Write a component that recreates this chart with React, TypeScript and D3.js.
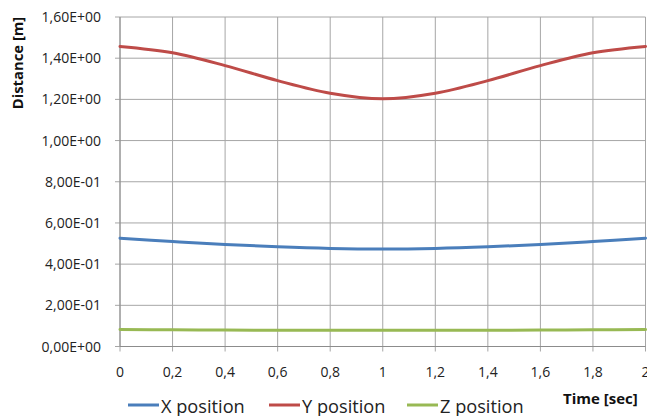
import React from "react";
import * as d3 from "d3";

const times = [0, 0.2, 0.4, 0.6, 0.8, 1.0, 1.2, 1.4, 1.6, 1.8, 2.0];
const xPosition = [0.526, 0.51, 0.4955, 0.484, 0.476, 0.473, 0.476, 0.484, 0.4955, 0.51, 0.526];
const yPosition = [1.457, 1.426, 1.364, 1.291, 1.23, 1.203, 1.23, 1.291, 1.364, 1.426, 1.457];
const zPosition = [0.082, 0.081, 0.08, 0.079, 0.079, 0.079, 0.079, 0.079, 0.08, 0.081, 0.082];
const yTicks = [0, 0.2, 0.4, 0.6, 0.8, 1.0, 1.2, 1.4, 1.6];
const xTicks = [0, 0.2, 0.4, 0.6, 0.8, 1.0, 1.2, 1.4, 1.6, 1.8, 2.0];
const seriesNames = ["X position", "Y position", "Z position"];
const seriesColors = ["#4a7ebb", "#be4b48", "#98b954"];

const W = 647, H = 416;
const left = 120, right = 645.5, top = 17, bottom = 346.5;

function fmtY(v: number) {
  const s = v.toExponential(2);
  const [m, e] = s.split("e");
  const sign = e[0] === "-" ? "-" : "+";
  const ex = Math.abs(parseInt(e, 10)).toString().padStart(2, "0");
  return m.replace(".", ",") + "E" + sign + ex;
}
function fmtX(v: number) {
  return d3.format("~g")(+v.toFixed(1)).replace(".", ",");
}

export default function App() {
  const x = d3.scaleLinear().domain([0, 2]).range([left, right]);
  const y = d3.scaleLinear().domain([0, 1.6]).range([bottom, top]);
  const line = d3
    .line<number>()
    .x((_, i) => x(times[i]))
    .y((d) => y(d))
    .curve(d3.curveCatmullRom.alpha(0.5));
  const series = [xPosition, yPosition, zPosition];
  const font = "'Open Sans', sans-serif";
  const legendX = [128, 269, 407];
  return (
    <svg width={W} height={H} style={{ position: "absolute", left: 0, top: 0, background: "#fff" }}>
      <g>
        {xTicks.map((t) => (
          <line key={"gx" + t} x1={x(t)} x2={x(t)} y1={top} y2={bottom + 5} stroke="#a6a6a6" strokeWidth={1} />
        ))}
        {yTicks.map((t) => (
          <line key={"gy" + t} x1={left - 5} x2={right} y1={y(t)} y2={y(t)} stroke="#a6a6a6" strokeWidth={1} />
        ))}
        <line x1={left} x2={left} y1={top} y2={bottom} stroke="#8c8c8c" />
        <line x1={left} x2={right} y1={bottom} y2={bottom} stroke="#8c8c8c" />
      </g>
      {series.map((s, i) => (
        <path key={i} d={line(s) || ""} fill="none" stroke={seriesColors[i]} strokeWidth={3} strokeLinecap="round" />
      ))}
      {yTicks.map((t) => (
        <text key={"ly" + t} x={101} y={y(t) + 5} textAnchor="end" fontFamily={font} fontSize={14} fill="#222">
          {fmtY(t)}
        </text>
      ))}
      {xTicks.map((t) => (
        <text key={"lx" + t} x={x(t)} y={377} textAnchor="middle" fontFamily={font} fontSize={14} fill="#222">
          {fmtX(t)}
        </text>
      ))}
      <text transform={`translate(23,63) rotate(-90)`} textAnchor="middle" fontFamily={font} fontWeight="bold" fontSize={14.8} fill="#111">
        Distance [m]
      </text>
      <text x={563} y={404} fontFamily={font} fontWeight="bold" fontSize={15} fill="#111">
        Time [sec]
      </text>
      {seriesNames.map((n, i) => (
        <g key={n}>
          <line x1={legendX[i]} x2={legendX[i] + 31} y1={405} y2={405} stroke={seriesColors[i]} strokeWidth={3} />
          <text x={legendX[i] + 33} y={412.5} fontFamily={font} fontSize={18.2} fill="#222">
            {n}
          </text>
        </g>
      ))}
    </svg>
  );
}
